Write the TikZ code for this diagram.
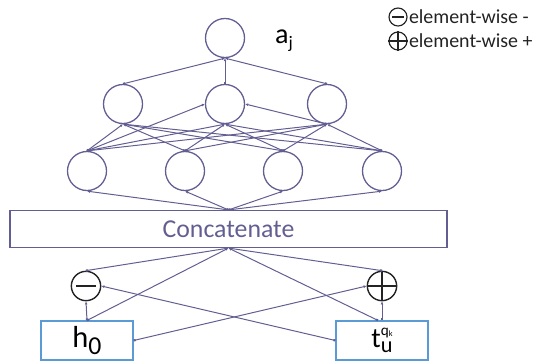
\documentclass[tikz,border=0pt]{standalone}
\usepackage{fontspec}
\setmainfont{Carlito}
\usetikzlibrary{arrows.meta, positioning, calc}
\definecolor{netpurple}{RGB}{98, 94, 146}
\definecolor{inblue}{RGB}{91, 155, 213}
\definecolor{opgray}{RGB}{35, 35, 35}

\begin{document}
\begin{tikzpicture}[
    x=0.03cm, y=-0.03cm,
    neuron/.style={circle, draw=netpurple, line width=1.1pt, minimum size=1.17cm, inner sep=0pt},
    op/.style={circle, draw=opgray, line width=1.2pt, minimum size=0.88cm, inner sep=0pt},
    legop/.style={op, line width=1pt, minimum size=0.54cm},
    inbox/.style={rectangle, draw=inblue, line width=1pt, minimum width=2.76cm, minimum height=1.17cm, inner sep=0pt},
    catbox/.style={rectangle, draw=netpurple, line width=1pt, minimum width=13.11cm, minimum height=1.11cm, text=netpurple, font=\fontsize{22}{26}\selectfont},
    link/.style={draw=netpurple, line width=0.85pt, {Square[length=1.8pt,width=1.8pt]}-{Latex[length=2.6pt,width=2.4pt]}},
    bar/.style={draw=opgray, line width=2.2pt},
    legtext/.style={anchor=west, inner sep=0pt, text=opgray, font=\fontsize{17}{20}\selectfont}
]
\useasboundingbox (0,0) rectangle (541,362);

% Network
\node[neuron] (top) at (225,38) {};
\node[neuron] (m1) at (123,104) {};
\node[neuron] (m2) at (225,104) {};
\node[neuron] (m3) at (327,104) {};
\node[neuron] (b1) at (87,171) {};
\node[neuron] (b2) at (185,171) {};
\node[neuron] (b3) at (283,171) {};
\node[neuron] (b4) at (382,171) {};
\node[font=\fontsize{24}{28}\selectfont, anchor=base west, inner sep=0pt] (aj) at (275,43) {a\raisebox{-5pt}{\fontsize{15}{18}\selectfont j}};

% Concatenate layer
\node[catbox] (cat) at (228.5,229) {Concatenate};

% Inputs and element-wise ops
\node[inbox, font=\fontsize{26}{30}\selectfont] (h0) at (87,340.5) {h\raisebox{-6pt}{\fontsize{22}{24}\selectfont 0}};
\node[inbox, font=\fontsize{24}{28}\selectfont] (tu) at (382,340.5) {t\raisebox{-4pt}{\shortstack[l]{\fontsize{13}{13}\selectfont q\raisebox{-1pt}{\fontsize{7}{8}\selectfont k}\\[0pt]\fontsize{19}{19}\selectfont u}}};
\node[op] (mn) at (86,286) {};
\node[op] (pl) at (382,286) {};
\draw[bar] ($(mn.center)+(-10,0)$) -- ($(mn.center)+(10,0)$);
\draw[bar] (pl.north) -- (pl.south);
\draw[bar] (pl.west) -- (pl.east);

% Legend
\node[legop] (lgmn) at (398,17) {};
\node[legop] (lgpl) at (398,41) {};
\draw[bar, line width=1.8pt] ($(lgmn.center)+(-6,0)$) -- ($(lgmn.center)+(6,0)$);
\draw[opgray, line width=1pt] (lgpl.north) -- (lgpl.south);
\draw[opgray, line width=1pt] (lgpl.west) -- (lgpl.east);
\node[legtext, right=1pt of lgmn.east] (lgmntext) {element-wise -};
\node[legtext, right=1pt of lgpl.east] (lgpltext) {element-wise +};

% Connections: inputs
\draw[link] (h0.north) -- (mn.south);
\draw[link] (tu.north) -- (pl.south);
\draw[link] (h0.east) -- (pl.west);
\draw[link] (tu.west) -- (mn.east);
\draw[link] (h0.north) -- (cat.south);
\draw[link] ($(tu.north)+(-4,0)$) -- (cat.south);
\draw[link] (mn.north) -- (cat.south);
\draw[link] (pl.north) -- (cat.south);

% Connections: network
\foreach \b in {b1,b2,b3,b4}
    \draw[link] (cat.north) -- (\b.south);
\foreach \b in {b1,b2,b3,b4}
    \foreach \m in {m1,m2,m3}
        \draw[link] (\b.north) -- (\m.south);
\draw[link] (b1.north) -- (m2.west);
\draw[link] (m3.south) -- (m2.east);
\foreach \m in {m1,m2,m3}
    \draw[link] (\m.north) -- (top.south);

\end{tikzpicture}
\end{document}
